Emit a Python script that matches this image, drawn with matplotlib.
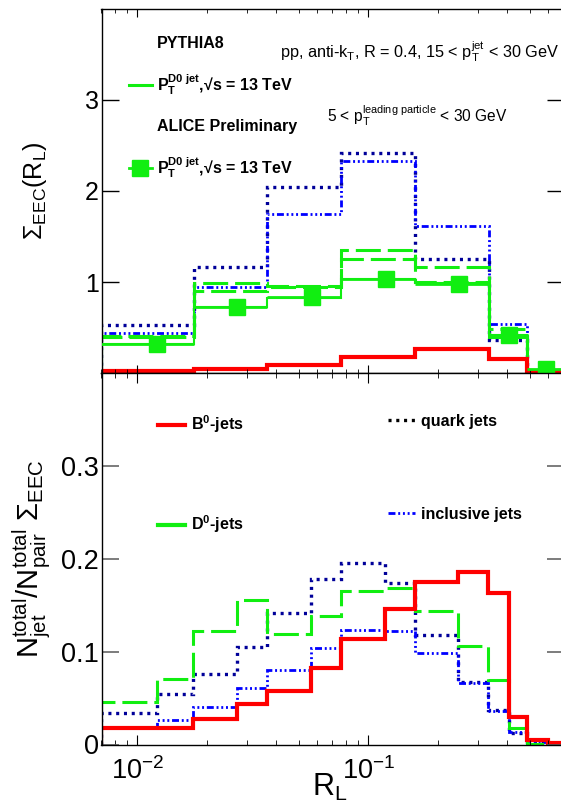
import numpy as np
import matplotlib
matplotlib.use("Agg")
import matplotlib.pyplot as plt
from matplotlib.lines import Line2D
from matplotlib.ticker import NullFormatter, LogLocator

plt.rcParams['font.family'] = ['Liberation Sans', 'DejaVu Sans']
plt.rcParams['mathtext.fontset'] = 'custom'
plt.rcParams['mathtext.rm'] = 'Liberation Sans'
plt.rcParams['mathtext.it'] = 'Liberation Sans:italic'
plt.rcParams['mathtext.bf'] = 'Liberation Sans:bold'
plt.rcParams['mathtext.sf'] = 'Liberation Sans'
plt.rcParams['lines.scale_dashes'] = False

# ---- data: upper panel (coarse R_L bins) ----
top_edges = [0.007, 0.0176, 0.0364, 0.076, 0.160, 0.333, 0.488, 0.7]
b0_top = [0.03, 0.044, 0.095, 0.18, 0.265, 0.155, 0.03]
quark_top = [0.53, 1.17, 2.04, 2.41, 1.255, 0.365, 0.03]
incl_top = [0.44, 0.95, 1.75, 2.33, 1.62, 0.54, 0.02]
d0_top_a = [0.41, 0.985, 0.96, 1.35, 1.17, 0.49, 0.03]
d0_top_b = [0.40, 0.905, 0.95, 1.25, 1.00, 0.40, 0.03]
pythia_d0_top = [0.317, 0.73, 0.83, 1.03, 0.985, 0.42, 0.036]

# ALICE preliminary D0-jet points
data_x = [0.0122, 0.0271, 0.0569, 0.119, 0.2477, 0.4076, 0.588]
data_y = [0.32, 0.73, 0.84, 1.03, 0.975, 0.42, 0.05]

# ---- data: lower panel (fine R_L bins) ----
bot_edges = [0.007, 0.0122, 0.0175, 0.0271, 0.0365, 0.0565, 0.0762, 0.118,
             0.160, 0.245, 0.330, 0.407, 0.488, 0.60, 0.7]
b0_bot = [0.018, 0.018, 0.028, 0.044, 0.058, 0.082, 0.114, 0.146, 0.175,
          0.186, 0.163, 0.030, 0.005, 0.002]
d0_bot = [0.046, 0.071, 0.122, 0.156, 0.119, 0.138, 0.165, 0.169, 0.144,
          0.106, 0.0695, 0.0175, 0.001, 0.001]
quark_bot = [0.0336, 0.054, 0.0756, 0.105, 0.142, 0.178, 0.196, 0.174, 0.118,
             0.067, 0.037, 0.0127, 0.003, 0.001]
incl_bot = [0.0185, 0.0264, 0.040, 0.0605, 0.080, 0.104, 0.123, 0.1226, 0.099,
            0.0666, 0.0364, 0.0138, 0.003, 0.001]

RED = '#ff0000'
GREEN = '#11ee11'
NAVY = '#000099'
BLUE = '#0000ff'
dashdot3 = (0, (5, 2, 1.4, 2, 1.4, 2, 1.4, 2))
green_dash = (0, (18, 5))
dots = (0, (2.2, 3.4))

W, H = 561, 802
fig = plt.figure(figsize=(W / 100, H / 100), dpi=100)
ax1 = fig.add_axes([101.5 / W, 1 - 373.3 / H, 462 / W, 364 / H])
ax2 = fig.add_axes([101.5 / W, 1 - 744.5 / H, 462 / W, 371.2 / H], sharex=ax1)

# upper panel
ax1.stairs(quark_top, top_edges, color=NAVY, lw=2.4, linestyle=dots)
ax1.stairs(incl_top, top_edges, color=BLUE, lw=2.0, linestyle=dashdot3)
ax1.stairs(d0_top_a, top_edges, color=GREEN, lw=2.2, linestyle=green_dash)
ax1.stairs(d0_top_b, top_edges, color=GREEN, lw=2.2, linestyle=green_dash)
ax1.stairs(pythia_d0_top, top_edges, color=GREEN, lw=1.5)
ax1.stairs(b0_top, top_edges, color=RED, lw=3)
xe = np.array(top_edges)
dx = np.array(data_x)
xerr = [dx - xe[:-1], xe[1:] - dx]
ax1.errorbar(data_x, data_y, xerr=xerr, fmt='s', color=GREEN, ms=12,
             elinewidth=2, capsize=0, zorder=5)

ax1.set_xscale('log')
ax1.set_xlim(0.007, 0.7)
ax1.set_ylim(0, 3.99)
ax1.set_yticks([1, 2, 3])
ax1.tick_params(axis='y', labelsize=18, length=12, width=1, direction='in',
                right=True, pad=2)
ax1.tick_params(axis='x', which='major', length=6, direction='in', top=True)
ax1.tick_params(axis='x', which='minor', length=3, direction='in', top=True)
ax1.tick_params(axis='x', labelbottom=False)
ax1.set_ylabel(r'$\Sigma_{\mathrm{EEC}}(\mathrm{R_{L}})$', fontsize=18)
ax1.yaxis.set_label_coords(-0.113, 0.5)

top_handles = [
    Line2D([], [], alpha=0),
    Line2D([], [], color=GREEN, lw=2.2),
    Line2D([], [], alpha=0),
    Line2D([], [], color=GREEN, marker='s', ms=12, lw=2),
]
top_labels = [
    'PYTHIA8',
    r'$\mathbf{P_{T}^{D0\ jet}}$,√s = 13 TeV',
    'ALICE Preliminary',
    r'$\mathbf{P_{T}^{D0\ jet}}$,√s = 13 TeV',
]
ax1.legend(top_handles, top_labels, loc='upper left', bbox_to_anchor=(0.06, 0.927),
           frameon=False, borderpad=0, borderaxespad=0, handlelength=1.4,
           handletextpad=0.35, labelspacing=1.35,
           prop={'weight': 'bold', 'size': 11.5})
ax1.text(0.386, 0.883, r'pp, anti-k$_{\mathrm{T}}$, R = 0.4, 15 < p$_{\mathrm{T}}^{\mathrm{jet}}$ < 30 GeV',
         transform=ax1.transAxes, fontsize=11.7, va='center', ha='left')
ax1.text(0.488, 0.707, r'5 < p$_{\mathrm{T}}^{\mathrm{leading\ particle}}$ < 30 GeV',
         transform=ax1.transAxes, fontsize=11.2, va='center', ha='left')

# lower panel
ax2.stairs(quark_bot, bot_edges, color=NAVY, lw=2.4, linestyle=dots)
ax2.stairs(incl_bot, bot_edges, color=BLUE, lw=2.0, linestyle=dashdot3)
ax2.stairs(d0_bot, bot_edges, color=GREEN, lw=2.2, linestyle=green_dash)
ax2.stairs(b0_bot, bot_edges, color=RED, lw=3)

ax2.set_ylim(0, 0.4)
ax2.set_yticks([0, 0.1, 0.2, 0.3], labels=['0', '0.1', '0.2', '0.3'])
ax2.tick_params(axis='y', labelsize=19.5, length=12, width=1.2, color='#666666',
                direction='in', right=True, pad=2)
ax2.xaxis.set_major_locator(LogLocator(base=10))
ax2.xaxis.set_minor_formatter(NullFormatter())
ax2.tick_params(axis='x', which='major', length=7, direction='in', top=True,
                labelsize=19.5, pad=9)
ax2.tick_params(axis='x', which='minor', length=3.6, direction='in', top=True)
ax2.set_ylabel(r'$\mathrm{N_{jet}^{total}/N_{pair}^{total}\ \Sigma_{EEC}}$',
               fontsize=21, labelpad=6)
ax2.set_xlabel(r'$\mathrm{R_{L}}$', fontsize=22)
ax2.xaxis.set_label_coords(0.495, -0.075)

leg_a = ax2.legend([Line2D([], [], color=RED, lw=3), Line2D([], [], color=GREEN, lw=3)],
                   [r'$\mathbf{B^{0}}$-jets', r'$\mathbf{D^{0}}$-jets'],
                   loc='upper left', bbox_to_anchor=(0.122, 0.8915), frameon=False,
                   borderpad=0, borderaxespad=0, handlelength=1.7, handletextpad=0.35,
                   labelspacing=4.9, prop={'weight': 'bold', 'size': 11.5})
ax2.add_artist(leg_a)
ax2.legend([Line2D([], [], color='black', lw=2.4, linestyle=dots),
            Line2D([], [], color=BLUE, lw=2.0, linestyle=dashdot3)],
           ['quark jets', 'inclusive jets'],
           loc='upper left', bbox_to_anchor=(0.620, 0.8915), frameon=False,
           borderpad=0, borderaxespad=0, handlelength=1.7, handletextpad=0.35,
           labelspacing=4.9, prop={'weight': 'bold', 'size': 11.5})

for ax in (ax1, ax2):
    for s in ax.spines.values():
        s.set_linewidth(1.0)

fig.savefig('out.png', dpi=100)
